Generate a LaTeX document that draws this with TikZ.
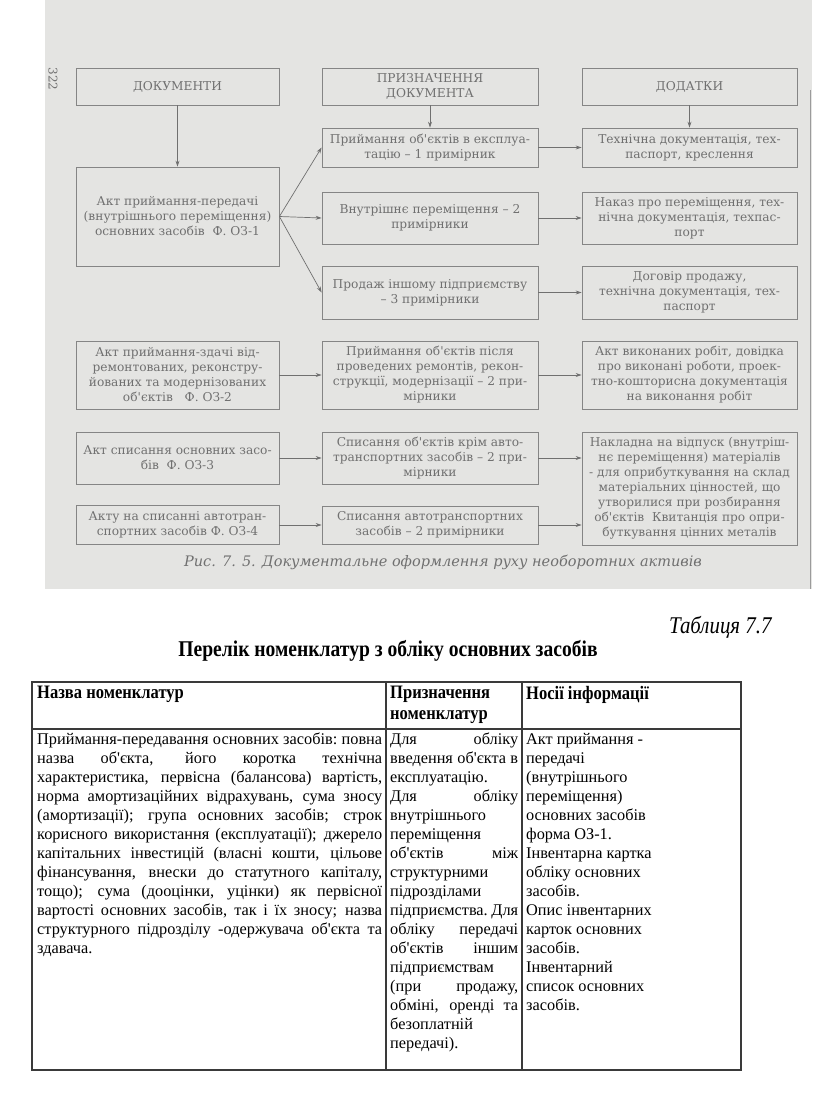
\documentclass[tikz,border=0pt]{standalone}
\usepackage{fontspec}
\setmainfont{Liberation Serif}
\newfontfamily\tabfont{Liberation Serif}
\newfontfamily\scanfont{DejaVu Serif}
\newfontfamily\headfont[FakeStretch=0.87]{Liberation Serif}
\usetikzlibrary{arrows.meta}
\definecolor{scanbg}{HTML}{E4E4E2}
\definecolor{scanink}{HTML}{707070}
\definecolor{ruleink}{HTML}{3A3A3A}
\newcommand\tightjust{\hyphenpenalty=10000 \tolerance=10000
  \spaceskip=.25em plus .8em minus .1em \xspaceskip=\spaceskip}
\tikzset{
  docbox/.style={draw=scanink!85, line width=0.8pt, align=center, text=scanink,
    inner sep=1pt, font=\scanfont\fontsize{12.2}{15}\selectfont},
  cell/.style={anchor=north west, inner sep=0pt, font=\tabfont\fontsize{16.3}{19}\selectfont},
  headcell/.style={anchor=north west, inner sep=0pt, align=left,
    font=\headfont\bfseries\fontsize{19}{21}\selectfont},
  flow/.style={->, draw=scanink, line width=0.7pt}
}
\begin{document}
\begin{tikzpicture}[x=1pt,y=-1pt,>={Stealth[length=6pt,width=4pt]}]
  \useasboundingbox (0,0) rectangle (816,1096);
  \fill[white] (0,0) rectangle (816,1096);
  % scanned figure
  \fill[scanbg] (45,0) rectangle (812,589);
  \draw[scanink!70, line width=0.6pt] (810,90) -- (810,589);
  \node[rotate=-90, text=scanink, font=\scanfont\fontsize{12}{12}\selectfont] (page) at (53,79) {322};

  \node[docbox, minimum width=203, minimum height=37] (docs) at (177.5,86.5) {ДОКУМЕНТИ};
  \node[docbox, minimum width=216, minimum height=37] (aim) at (430,86.5) {ПРИЗНАЧЕННЯ\\ДОКУМЕНТА};
  \node[docbox, minimum width=215, minimum height=37] (annex) at (689.5,86.5) {ДОДАТКИ};

  \node[docbox, minimum width=203, minimum height=99] (actA) at (177.5,216.5)
    {Акт приймання-передачі\\(внутрішнього переміщення)\\основних засобів~ Ф. ОЗ-1};
  \node[docbox, minimum width=203, minimum height=68] (actB) at (177.5,375)
    {Акт приймання-здачі від-\\ремонтованих, реконстру-\\йованих та модернізованих\\об'єктів~~ Ф. ОЗ-2};
  \node[docbox, minimum width=203, minimum height=52] (actC) at (177.5,458)
    {Акт списання основних засо-\\бів~ Ф. ОЗ-3};
  \node[docbox, minimum width=203, minimum height=39] (actD) at (177.5,525)
    {Акту на списанні автотран-\\спортних засобів Ф. ОЗ-4};

  \node[docbox, minimum width=216, minimum height=39] (use) at (430,147.5)
    {Приймання об'єктів в експлуа-\\тацію – 1 примірник};
  \node[docbox, minimum width=216, minimum height=52] (move) at (430,218)
    {Внутрішнє переміщення – 2\\примірники};
  \node[docbox, minimum width=216, minimum height=53] (sale) at (430,292.5)
    {Продаж іншому підприємству\\– 3 примірники};
  \node[docbox, minimum width=216, minimum height=68] (repair) at (430,375)
    {Приймання об'єктів після\\проведених ремонтів, рекон-\\струкції, модернізації – 2 при-\\мірники};
  \node[docbox, minimum width=216, minimum height=52] (wroff) at (430,458)
    {Списання об'єктів крім авто-\\транспортних засобів – 2 при-\\мірники};
  \node[docbox, minimum width=216, minimum height=38] (autoff) at (430,525)
    {Списання автотранспортних\\засобів – 2 примірники};

  \node[docbox, minimum width=215, minimum height=39] (tech) at (689.5,147.5)
    {Технічна документація, тех-\\паспорт, креслення};
  \node[docbox, minimum width=215, minimum height=52] (order) at (689.5,218)
    {Наказ про переміщення, тех-\\нічна документація, техпас-\\порт};
  \node[docbox, minimum width=215, minimum height=53] (deal) at (689.5,292.5)
    {Договір продажу,\\технічна документація, тех-\\паспорт};
  \node[docbox, minimum width=215, minimum height=68] (works) at (689.5,375)
    {Акт виконаних робіт, довідка\\про виконані роботи, проек-\\тно-кошторисна документація\\на виконання робіт};
  \node[docbox, minimum width=215, minimum height=113] (bill) at (689.5,488.5)
    {Накладна на відпуск (внутріш-\\нє переміщення) матеріалів\\- для оприбуткування на склад\\матеріальних цінностей, що\\утворилися при розбирання\\об'єктів~ Квитанція про опри-\\буткування цінних металів};

  \draw[flow] (docs) -- (actA);
  \draw[flow] (aim) -- (use);
  \draw[flow] (annex) -- (tech);
  \draw[flow] (actA.east) -- (use.west);
  \draw[flow] (actA.east) -- (move.west);
  \draw[flow] (actA.east) -- (sale.west);
  \draw[flow] (use) -- (tech);
  \draw[flow] (move) -- (order);
  \draw[flow] (sale) -- (deal);
  \draw[flow] (actB) -- (repair);
  \draw[flow] (repair) -- (works);
  \draw[flow] (actC) -- (wroff);
  \draw[flow] (wroff.east) -- (wroff.east -| bill.west);
  \draw[flow] (actD) -- (autoff);
  \draw[flow] (autoff.east) -- (autoff.east -| bill.west);

  \node[text=scanink, font=\scanfont\itshape\fontsize{14.5}{15}\selectfont] (caption) at (443,562)
    {Рис. 7. 5. Документальне оформлення руху необоротних активів};

  % table
  \node[anchor=east, font=\headfont\itshape\fontsize{24}{24}\selectfont] (tabno) at (775,627) {Таблиця 7.7};
  \node[font=\headfont\bfseries\fontsize{22.5}{22.5}\selectfont] (title) at (388,651)
    {Перелік номенклатур з обліку основних засобів};
  \draw[ruleink, line width=1.2pt] (32,682) rectangle (741,1070);
  \draw[ruleink, line width=1.2pt] (32,729) -- (741,729);
  \draw[ruleink, line width=1.2pt] (386,682) -- (386,1070);
  \draw[ruleink, line width=1.2pt] (522,682) -- (522,1070);

  \node[headcell] (hname) at (37,686) {Назва номенклатур};
  \node[headcell] (haim) at (390,686) {Призначення\\номенклатур};
  \node[headcell] (hcarrier) at (526,686) {Носії інформації};

  \node[cell, text width=345, align=justify] (name) at (37,733) {\tightjust
    Приймання-передавання основних засобів: повна\linebreak
    назва об'єкта, його коротка технічна\linebreak
    характеристика, первісна (балансова) вартість,\linebreak
    норма амортизаційних відрахувань, сума зносу\linebreak
    (амортизації); група основних засобів; строк\linebreak
    корисного використання (експлуатації); джерело\linebreak
    капітальних інвестицій (власні кошти, цільове\linebreak
    фінансування, внески до статутного капіталу,\linebreak
    тощо); сума (дооцінки, уцінки) як первісної\linebreak
    вартості основних засобів, так і їх зносу; назва\linebreak
    структурного підрозділу -одержувача об'єкта та\linebreak
    здавача.};
  \node[cell, text width=128, align=justify] (aimtext) at (390,733) {\tightjust
    Для обліку\linebreak
    введення об'єкта в\linebreak
    експлуатацію.\par
    Для обліку\linebreak
    внутрішнього\linebreak
    переміщення\linebreak
    об'єктів між\linebreak
    структурними\linebreak
    підрозділами\linebreak
    підприємства. Для\linebreak
    обліку передачі\linebreak
    об'єктів іншим\linebreak
    підприємствам\linebreak
    (при продажу,\linebreak
    обміні, оренді та\linebreak
    безоплатній\linebreak
    передачі).};
  \node[cell, align=left] (carrier) at (526,733) {Акт приймання -\\передачі\\(внутрішнього\\переміщення)\\основних засобів\\форма ОЗ-1.\\Інвентарна картка\\обліку основних\\засобів.\\Опис інвентарних\\карток основних\\засобів.\\Інвентарний\\список основних\\засобів.};
\end{tikzpicture}
\end{document}
